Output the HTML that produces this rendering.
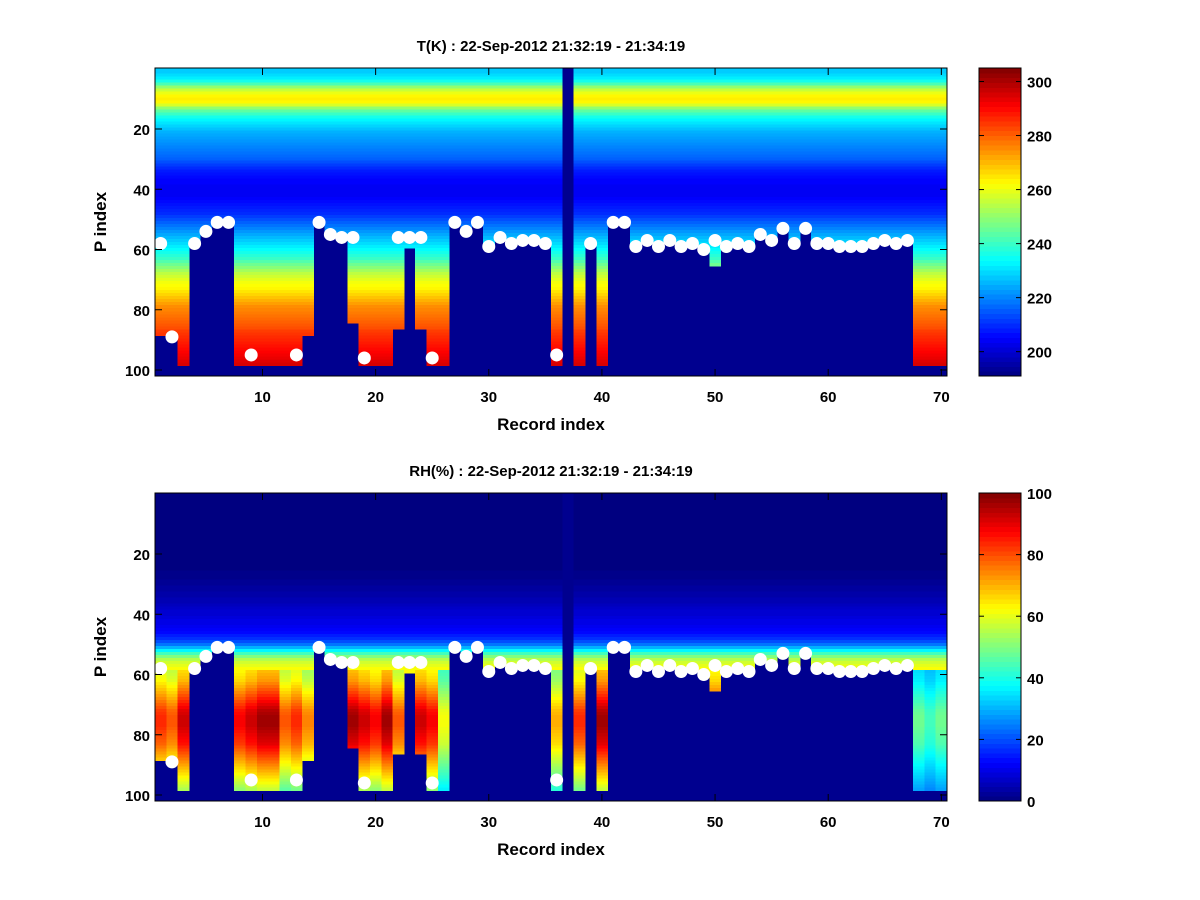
<!DOCTYPE html>
<html><head><meta charset="utf-8">
<style>
html,body{margin:0;padding:0;background:#fff;}
svg{display:block;font-family:"Liberation Sans",Arial,sans-serif;font-weight:bold;}
</style></head>
<body>
<svg id="fig" width="1200" height="900" viewBox="0 0 1200 900" xmlns="http://www.w3.org/2000/svg">
<rect width="1200" height="900" fill="#fff"/>
<g id="p1"></g>
<g id="p2"></g>
</svg>
<script>
// ---- data ----
const records = Array.from({length:70},(_,i)=>i+1);
// surface level (white dot) per record, 0 = none
const surface = [58,89,0,58,54,51,51,0,95,0,0,0,95,0,51,55,56,56,96,0,0,56,56,56,96,0,51,54,51,59,56,58,57,57,58,95,0,0,58,0,51,51,59,57,59,57,59,58,60,57,59,58,59,55,57,53,58,53,58,58,59,59,59,58,57,58,57,0,0,0];
// lowest level with valid data per record
const dataBottom = [88,88,98,58,54,51,51,98,98,98,98,98,98,88,51,55,56,84,98,98,98,86,59,86,98,98,51,54,51,59,56,58,57,57,58,98,0,98,58,98,51,51,59,57,59,57,59,58,60,65,59,58,59,55,57,53,58,53,58,58,59,59,59,58,57,58,57,98,98,98];
// temperature profile (K) per level 1..98
const tempProfile = [228,230,232,236,242,250,256,260,263,264,263,258,250,244,240,236,233,231,229,227,
225,224,223,222,221,220,219,218,217,216,214,212,210,208,207,206,205,205,204,204,
204,204,205,206,207,208,209,210,212,214,216,218,220,222,224,226,228,230,232,234,
236,238,240,243,246,249,252,255,257,259,261,262,263,265,267,269,271,273,275,276,
277,278,279,280,281,282,284,285,286,287,288,289,290,291,292,293,294,295];
// relative humidity profile (%) per level 1..98
const rhProfile = [0,0,0,0,0,0,0,0,0,0,0,0,0,0,0,0,0,0,0,0,
0,0,0,0,0,1,1,1,2,2,3,3,4,4,5,5,6,7,8,8,9,10,10,11,12,13,15,17,20,24,
30,37,44,50,55,58,60,62,63,64,65,66,68,70,72,74,76,78,80,82,
84,86,87,88,88,88,88,87,86,85,84,83,82,80,78,76,74,72,70,68,66,64,62,60,58,56,54,52];
// per-record humidity scale for the lower layers
const rhScale = [0.95,0.9,1.05,1,1,1,1,1.0,1.05,1.1,1.1,0.9,0.95,0.85,1,1,1,1.1,1.05,1.0,1.1,0.9,1,1.05,1.0,0.7,1,1,1,1,1,1,1,1,1,0.8,1,0.95,1,1.1,1,1,1,1,1,1,1,1,1,1,1,1,1,1,1,1,1,1,1,1,1,1,1,1,1,1,1,0.55,0.5,0.55];
const tTicks=[20,40,60,80,100], xTicks=[10,20,30,40,50,60,70];
const tCbTicks=[200,220,240,260,280,300], rhCbTicks=[0,20,40,60,80,100];

const NS="http://www.w3.org/2000/svg";
function jet(t){t=Math.max(0,Math.min(1,t));const c=v=>Math.round(255*Math.max(0,Math.min(1,v)));
 return `rgb(${c(1.5-Math.abs(4*t-3))},${c(1.5-Math.abs(4*t-2))},${c(1.5-Math.abs(4*t-1))})`;}
function mk(parent,tag,attrs){const e=document.createElementNS(NS,tag);for(const k in attrs)e.setAttribute(k,attrs[k]);parent.appendChild(e);return e;}
const AX={l:155,r:947}, xs=i=>AX.l+(i-0.5)*(AX.r-AX.l)/70;
const DARK="#00008f";

function panel(g,top,title,valFn,vmin,vmax,cbTicks,isT){
 const bot=top+308;
 const ys=l=>top+61+(l-20)*3.0125;
 mk(g,'rect',{x:AX.l,y:top,width:AX.r-AX.l,height:308,fill:DARK});
 const cells=mk(g,'g',{'shape-rendering':'crispEdges'});
 
 
 records.forEach((rec,ci)=>{
  for(let l=1;l<=dataBottom[ci];l++){
   const v=valFn(ci,l);
   const y0=l===1?top:ys(l-0.5), y1=ys(l+0.5);
   const r=mk(cells,'rect',{x:xs(rec-0.5).toFixed(2),y:y0.toFixed(2),width:(xs(rec+0.5)-xs(rec-0.5)+0.4).toFixed(2),height:(y1-y0+0.4).toFixed(2),fill:jet((v-vmin)/(vmax-vmin))});
   
   
  }
 });
 records.forEach((rec,ci)=>{ if(surface[ci]>0){
   const c=mk(g,'circle',{cx:xs(rec),cy:ys(surface[ci]),r:6.5,fill:'#fff'});
   
   
 }});
 mk(g,'rect',{x:AX.l,y:top,width:AX.r-AX.l,height:308,fill:'none',stroke:'#000','stroke-width':1});
 xTicks.forEach(t=>{const x=xs(t);
  mk(g,'line',{x1:x,x2:x,y1:bot,y2:bot-7,stroke:'#000'});mk(g,'line',{x1:x,x2:x,y1:top,y2:top+7,stroke:'#000'});
  const tx=mk(g,'text',{x:x,y:bot+26,'font-size':15,'text-anchor':'middle'});tx.textContent=t;
  });
 tTicks.forEach(t=>{const y=ys(t);
  mk(g,'line',{x1:AX.l,x2:AX.l+7,y1:y,y2:y,stroke:'#000'});mk(g,'line',{x1:AX.r,x2:AX.r-7,y1:y,y2:y,stroke:'#000'});
  const tx=mk(g,'text',{x:AX.l-5,y:y+6,'font-size':15,'text-anchor':'end'});tx.textContent=t;
  });
 const ti=mk(g,'text',{x:551,y:top-17,'font-size':15,'text-anchor':'middle'});ti.textContent=title;
 
 const xl=mk(g,'text',{x:551,y:bot+54,'font-size':17,'text-anchor':'middle'});xl.textContent='Record index';
 
 const yl=mk(g,'text',{x:0,y:0,'font-size':17,'text-anchor':'middle',transform:`translate(106,${top+154}) rotate(-90)`});yl.textContent='P index';
 
 // colorbar
 const cb=mk(g,'g',{});
 const cx0=979,cx1=1021,n=64,h=308/n;
 for(let k=0;k<n;k++){mk(cb,'rect',{x:cx0,y:(bot-(k+1)*h).toFixed(2),width:cx1-cx0,height:(h+0.5).toFixed(2),fill:jet((k+0.5)/n),'shape-rendering':'crispEdges'});}
 mk(cb,'rect',{x:cx0,y:top,width:cx1-cx0,height:308,fill:'none',stroke:'#000'});
 const cbMin=isT?191:0,cbMax=isT?305:100;
 cbTicks.forEach(t=>{const y=bot-(t-cbMin)/(cbMax-cbMin)*308;
  mk(cb,'line',{x1:cx0,x2:cx0+5,y1:y,y2:y,stroke:'#000'});mk(cb,'line',{x1:cx1,x2:cx1-5,y1:y,y2:y,stroke:'#000'});
  const tx=mk(cb,'text',{x:cx1+6,y:y+6,'font-size':15});tx.textContent=t;
  });
}
panel(document.getElementById('p1'),68,'T(K) : 22-Sep-2012 21:32:19 - 21:34:19',
 (ci,l)=>tempProfile[l-1],191,305,tCbTicks,true);
panel(document.getElementById('p2'),493,'RH(%) : 22-Sep-2012 21:32:19 - 21:34:19',
 (ci,l)=>{const v=rhProfile[l-1];return l>58?Math.min(100,v*rhScale[ci]):v;},0,100,rhCbTicks,false);
</script>
</body></html>
